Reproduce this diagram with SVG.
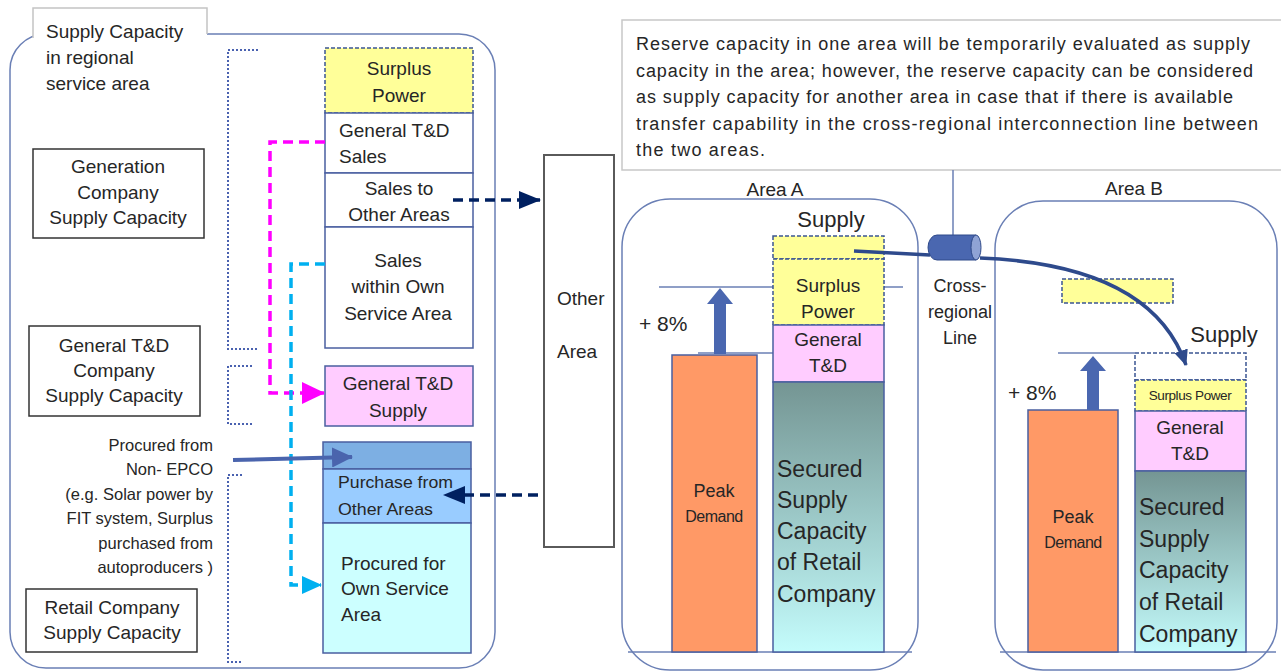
<svg xmlns="http://www.w3.org/2000/svg" width="1281" height="672" viewBox="0 0 1281 672">
  <style>
    .t { font-family: "Liberation Sans", Arial, sans-serif; fill: #262626; font-size: 19px; }
    .c { text-anchor: middle; }
    .e { text-anchor: end; }
    .note { font-size: 18px; }
    .small { font-size: 16.5px; }
    .big { font-size: 23px; }
    .head { font-size: 22px; }
    .pct { font-size: 21px; }
    .lbl { font-size: 17px; }
    .peak { font-size: 18px; }
    .demand { font-size: 16px; letter-spacing: -0.5px; }
    .node { fill: #ffffff; stroke: #333333; stroke-width: 1.5; }
    .cell { stroke: #4a5fa0; stroke-width: 1.5; }
    .dash { stroke: #3b5592; stroke-width: 1.5; stroke-dasharray: 4 2; }
    .area { fill: none; stroke: #6a7fb5; stroke-width: 1.5; }
    .level { stroke: #6a7fb5; stroke-width: 1.5; }
    .bracket { fill: none; stroke: #4a62b0; stroke-width: 2; stroke-dasharray: 2 2; }
  </style>
  <defs>
    <linearGradient id="secured" x1="0" y1="0" x2="0" y2="1">
      <stop offset="0" stop-color="#749593"/>
      <stop offset="1" stop-color="#c4fcfc"/>
    </linearGradient>
    <marker id="navyHead" markerUnits="userSpaceOnUse" markerWidth="22" markerHeight="18" refX="21" refY="9" orient="auto">
      <path d="M0,0 L22,9 L0,18 z" fill="#002060"/>
    </marker>
    <marker id="magentaHead" markerUnits="userSpaceOnUse" markerWidth="23" markerHeight="22" refX="22" refY="11" orient="auto">
      <path d="M0,0 L23,11 L0,22 z" fill="#ff00ff"/>
    </marker>
    <marker id="cyanHead" markerUnits="userSpaceOnUse" markerWidth="20" markerHeight="18" refX="19" refY="9" orient="auto">
      <path d="M0,0 L20,9 L0,18 z" fill="#00b0f0"/>
    </marker>
    <marker id="blueHead" markerUnits="userSpaceOnUse" markerWidth="21" markerHeight="20" refX="20" refY="10" orient="auto">
      <path d="M0,0 L21,10 L0,20 z" fill="#4a64ad"/>
    </marker>
    <marker id="curveHead" markerUnits="userSpaceOnUse" markerWidth="16" markerHeight="14" refX="15" refY="7" orient="auto">
      <path d="M0,0 L16,7 L0,14 z" fill="#2e4a8c"/>
    </marker>
  </defs>

  <rect width="1281" height="672" fill="#ffffff"/>

  <!-- regional service area frame with its caption tab -->
  <g id="regional-area">
    <rect x="10" y="34" width="485" height="634" rx="36" ry="36" class="area" stroke="#5b73a8"/>
    <rect x="33" y="8" width="174" height="30" fill="#ffffff"/>
    <polyline points="33,38 33,8 207,8 207,34" fill="none" stroke="#c4c4c4" stroke-width="1.5"/>
    <text class="t" x="46" y="38">Supply Capacity</text>
    <text class="t" x="46" y="64">in regional</text>
    <text class="t" x="46" y="90">service area</text>
  </g>

  <g id="generation-company">
    <rect x="33" y="149" width="171" height="89" class="node"/>
    <text class="t c" x="118" y="173">Generation</text>
    <text class="t c" x="118" y="199">Company</text>
    <text class="t c" x="118" y="224">Supply Capacity</text>
  </g>

  <g id="td-company">
    <rect x="29" y="326" width="171" height="90" class="node"/>
    <text class="t c" x="114" y="352">General T&amp;D</text>
    <text class="t c" x="114" y="377">Company</text>
    <text class="t c" x="114" y="402">Supply Capacity</text>
  </g>

  <g id="retail-company">
    <rect x="26" y="589" width="171" height="63" class="node"/>
    <text class="t c" x="112" y="614">Retail Company</text>
    <text class="t c" x="112" y="639">Supply Capacity</text>
  </g>

  <g id="non-epco-note">
    <text class="t e small" x="213" y="451">Procured from</text>
    <text class="t e small" x="213" y="475">Non- EPCO</text>
    <text class="t e small" x="213" y="500">(e.g. Solar power by</text>
    <text class="t e small" x="213" y="524">FIT system, Surplus</text>
    <text class="t e small" x="213" y="549">purchased from</text>
    <text class="t e small" x="213" y="573">autoproducers )</text>
  </g>

  <!-- dotted brackets grouping the stack by company -->
  <g id="brackets">
    <polyline points="258,50 228,50 228,349 258,349" class="bracket"/>
    <polyline points="252,366 228,366 228,424 252,424" class="bracket"/>
    <polyline points="242,475 228,475 228,662 242,662" class="bracket"/>
  </g>

  <!-- supply stack of the regional area -->
  <g id="surplus-power">
    <rect x="325" y="48" width="148" height="65" fill="#ffff99" class="dash"/>
    <text class="t c" x="399" y="75">Surplus</text>
    <text class="t c" x="399" y="102">Power</text>
  </g>
  <g id="td-sales">
    <rect x="325" y="113" width="148" height="60" fill="#ffffff" class="cell"/>
    <text class="t" x="339" y="137">General T&amp;D</text>
    <text class="t" x="339" y="163">Sales</text>
  </g>
  <g id="sales-other">
    <rect x="325" y="173" width="148" height="54" fill="#ffffff" class="cell"/>
    <text class="t c" x="399" y="195">Sales to</text>
    <text class="t c" x="399" y="221">Other Areas</text>
  </g>
  <g id="sales-own">
    <rect x="325" y="227" width="148" height="121" fill="#ffffff" class="cell"/>
    <text class="t c" x="398" y="267">Sales</text>
    <text class="t c" x="398" y="293">within Own</text>
    <text class="t c" x="398" y="320">Service Area</text>
  </g>
  <g id="td-supply">
    <rect x="325" y="366" width="148" height="60" fill="#ffccff" class="cell"/>
    <text class="t c" x="398" y="390">General T&amp;D</text>
    <text class="t c" x="398" y="417">Supply</text>
  </g>
  <g id="non-epco-strip">
    <rect x="323" y="442" width="148" height="27" fill="#7dafe3" class="cell"/>
  </g>
  <g id="purchase-other">
    <rect x="323" y="469" width="148" height="54" fill="#99ccff" class="cell"/>
    <text class="t lbl" x="338" y="488" textLength="115" lengthAdjust="spacingAndGlyphs">Purchase from</text>
    <text class="t lbl" x="338" y="515" textLength="95" lengthAdjust="spacingAndGlyphs">Other Areas</text>
  </g>
  <g id="procured-own">
    <rect x="323" y="523" width="148" height="130" fill="#ccffff" class="cell"/>
    <text class="t" x="341" y="570">Procured for</text>
    <text class="t" x="341" y="595">Own Service</text>
    <text class="t" x="341" y="621">Area</text>
  </g>

  <g id="other-area">
    <rect x="544" y="155" width="70" height="392" fill="#ffffff" stroke="#5a5a5a" stroke-width="2"/>
    <text class="t" x="557" y="305">Other</text>
    <text class="t" x="557" y="358">Area</text>
  </g>

  <g id="reserve-note">
    <polyline points="1281,20 622,20 622,170 1281,170" fill="#ffffff" stroke="#c8c8c8" stroke-width="1.5"/>
    <text class="t note" x="636" y="50" textLength="614" lengthAdjust="spacing">Reserve capacity in one area will be temporarily evaluated as supply</text>
    <text class="t note" x="636" y="77" textLength="617" lengthAdjust="spacing">capacity in the area; however, the reserve capacity can be considered</text>
    <text class="t note" x="636" y="103" textLength="597" lengthAdjust="spacing">as supply capacity for another area in case that if there is available</text>
    <text class="t note" x="636" y="130" textLength="622" lengthAdjust="spacing">transfer capability in the cross-regional interconnection line between</text>
    <text class="t note" x="636" y="156" textLength="129" lengthAdjust="spacing">the two areas.</text>
  </g>

  <!-- Area A -->
  <g id="area-a">
    <text class="t c" x="775" y="196">Area A</text>
    <rect x="622" y="199" width="296" height="471" rx="48" ry="48" class="area"/>
    <line x1="628" y1="652" x2="912" y2="652" class="level"/>
    <line x1="659" y1="287" x2="773" y2="287" class="level"/>
    <line x1="884" y1="287" x2="903" y2="287" class="level"/>
    <line x1="698" y1="353" x2="773" y2="353" class="level"/>
    <text class="t c head" x="831" y="227">Supply</text>
    <rect x="773" y="236" width="111" height="23" fill="#ffff99" class="dash"/>
    <rect x="773" y="259" width="111" height="66" fill="#ffff99" class="dash"/>
    <text class="t c" x="828" y="292">Surplus</text>
    <text class="t c" x="828" y="318">Power</text>
    <rect x="773" y="325" width="111" height="57" fill="#ffccff" class="cell"/>
    <text class="t c" x="828" y="346">General</text>
    <text class="t c" x="828" y="372">T&amp;D</text>
    <rect x="773" y="382" width="111" height="270" fill="url(#secured)" class="cell"/>
    <text class="t big" x="777" y="477">Secured</text>
    <text class="t big" x="777" y="508">Supply</text>
    <text class="t big" x="777" y="539">Capacity</text>
    <text class="t big" x="777" y="570">of Retail</text>
    <text class="t big" x="777" y="602">Company</text>
    <rect x="672" y="355" width="85" height="297" fill="#ff9966" class="cell"/>
    <text class="t c peak" x="714" y="497">Peak</text>
    <text class="t c demand" x="714" y="522">Demand</text>
    <path d="M714,354 L714,304 L707,304 L720,288 L733,304 L726,304 L726,354 z" fill="#4a67b0"/>
    <text class="t pct" x="639" y="331">+ 8%</text>
  </g>

  <!-- Area B -->
  <g id="area-b">
    <text class="t c" x="1134" y="195">Area B</text>
    <rect x="995" y="201" width="282" height="469" rx="48" ry="48" class="area"/>
    <line x1="1000" y1="652" x2="1276" y2="652" class="level"/>
    <line x1="1058" y1="353" x2="1135" y2="353" class="level"/>
    <rect x="1062" y="279" width="111" height="24" fill="#ffff99" class="dash"/>
    <text class="t c head" x="1224" y="342">Supply</text>
    <rect x="1135" y="353" width="111" height="27" fill="#ffffff" class="dash"/>
    <rect x="1135" y="380" width="111" height="31" fill="#ffff99" class="dash"/>
    <text class="t c" x="1190" y="400" style="font-size:13.5px;letter-spacing:-0.4px">Surplus Power</text>
    <rect x="1135" y="411" width="111" height="60" fill="#ffccff" class="cell"/>
    <text class="t c" x="1190" y="434">General</text>
    <text class="t c" x="1190" y="460">T&amp;D</text>
    <rect x="1135" y="471" width="111" height="181" fill="url(#secured)" class="cell"/>
    <text class="t big" x="1139" y="515">Secured</text>
    <text class="t big" x="1139" y="547">Supply</text>
    <text class="t big" x="1139" y="578">Capacity</text>
    <text class="t big" x="1139" y="610">of Retail</text>
    <text class="t big" x="1139" y="642">Company</text>
    <rect x="1028" y="410" width="90" height="242" fill="#ff9966" class="cell"/>
    <text class="t c peak" x="1073" y="523">Peak</text>
    <text class="t c demand" x="1073" y="548">Demand</text>
    <path d="M1087,410 L1087,371 L1080,371 L1093,356 L1106,371 L1099,371 L1099,410 z" fill="#4a67b0"/>
    <text class="t pct" x="1008" y="400">+ 8%</text>
  </g>

  <g id="cross-regional-line">
    <line x1="953" y1="170" x2="953" y2="236" stroke="#6a7fb5" stroke-width="1.5"/>
    <path d="M937,235 L976,235 L976,260 L937,260 A9,12.5 0 0 1 937,235 z" fill="#4a67b0" stroke="#2f4a8a" stroke-width="1"/>
    <ellipse cx="976" cy="247.5" rx="5" ry="12.5" fill="#8fa3d5" stroke="#2f4a8a" stroke-width="1"/>
    <text class="t c" x="960" y="292" style="font-size:18px">Cross-</text>
    <text class="t c" x="960" y="318" style="font-size:18px">regional</text>
    <text class="t c" x="960" y="344" style="font-size:18px">Line</text>
  </g>

  <!-- flows between the blocks -->
  <g id="connectors" fill="none">
    <polyline points="325,142 270,142 270,393 324,393" stroke="#ff00ff" stroke-width="3.5" stroke-dasharray="10 6" marker-end="url(#magentaHead)"/>
    <polyline points="325,264 291,264 291,585 321,585" stroke="#00b0f0" stroke-width="3.5" stroke-dasharray="10 6" marker-end="url(#cyanHead)"/>
    <line x1="453" y1="200" x2="540" y2="200" stroke="#002060" stroke-width="3.5" stroke-dasharray="10 6" marker-end="url(#navyHead)"/>
    <line x1="538" y1="495" x2="444" y2="495" stroke="#002060" stroke-width="3.5" stroke-dasharray="10 6" marker-end="url(#navyHead)"/>
    <line x1="233" y1="460" x2="352" y2="457" stroke="#4a64ad" stroke-width="4" marker-end="url(#blueHead)"/>
    <line x1="854" y1="251" x2="930" y2="255" stroke="#2e4a8c" stroke-width="3.5"/>
    <path d="M980,258 C1080,262 1160,290 1186,365" stroke="#2e4a8c" stroke-width="3.5" marker-end="url(#curveHead)"/>
  </g>
</svg>
